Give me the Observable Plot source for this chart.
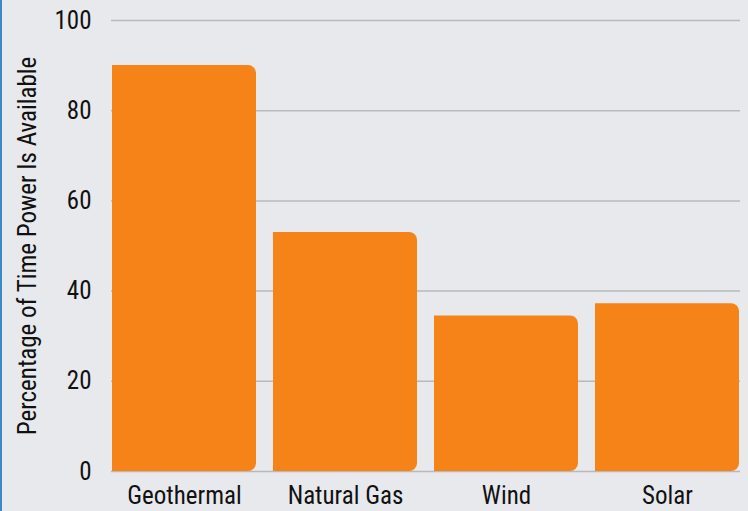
<!DOCTYPE html>
<html>
<head>
<meta charset="utf-8">
<script src="https://cdn.jsdelivr.net/npm/d3@7"></script>
<script src="https://cdn.jsdelivr.net/npm/@observablehq/plot@0.6"></script>
<style>
  html, body { margin: 0; padding: 0; background: #e8e9ed; }
  #wrap { width: 746px; height: 511px; border-left: 2px solid #3a8ac6; background: #e8e9ed; overflow: hidden; }
  #wrap svg { font-family: "Roboto Condensed", "Liberation Sans Narrow", "DejaVu Sans Condensed", Roboto, sans-serif; font-stretch: condensed; }
</style>
</head>
<body>
<div id="wrap"></div>
<script>
const sources = ["Geothermal", "Natural Gas", "Wind", "Solar"];
const availability = [90, 53, 34.5, 37.2];
const yTicks = [0, 20, 40, 60, 80, 100];

const data = sources.map((s, i) => ({source: s, value: availability[i]}));

const chart = Plot.plot({
  width: 746,
  height: 511,
  marginLeft: 109,
  marginRight: 8,
  marginTop: 20,
  marginBottom: 40,
  style: {background: "#e8e9ed", fontSize: "25px", color: "#111"},
  x: {domain: sources, paddingInner: 0.105, paddingOuter: 0, label: null},
  y: {domain: [0, 100], label: null},
  marks: [
    Plot.gridY(yTicks, {stroke: "#b8b9bd", strokeOpacity: 1, strokeWidth: 1.5}),
    Plot.rectY(data, {x: "source", y: "value", fill: "#f58318", ry2: 8, rx2: 8, r: 0}),
    Plot.axisY({ticks: yTicks, tickSize: 0, tickPadding: 20, label: "Percentage of Time Power Is Available", labelAnchor: "center", labelArrow: "none", labelOffset: 93, fontSize: 25}),
    Plot.axisX({tickSize: 0, tickPadding: 15, label: null, fontSize: 25})
  ]
});
document.getElementById("wrap").appendChild(chart);
</script>
</body>
</html>
